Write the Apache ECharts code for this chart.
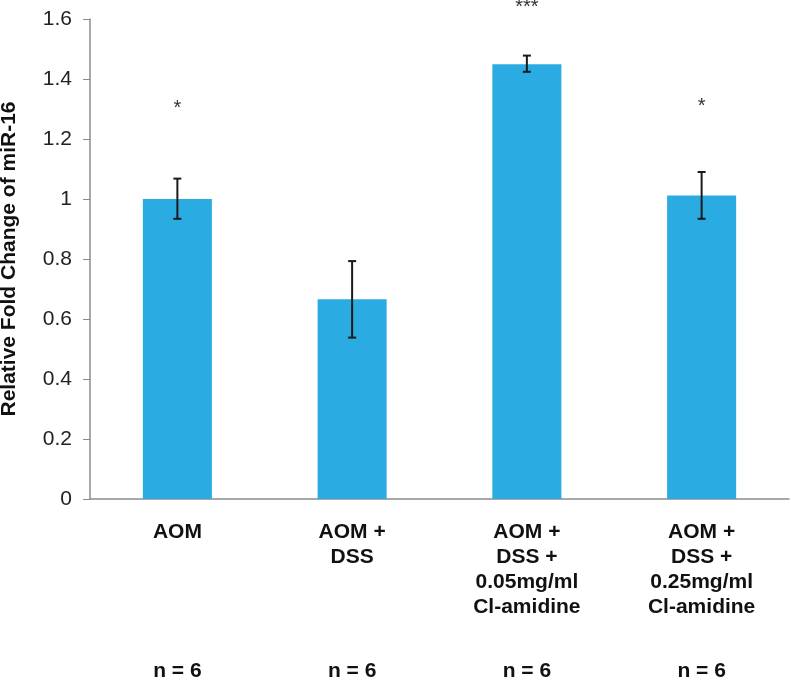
<!DOCTYPE html>
<html>
<head>
<meta charset="utf-8">
<script src="https://cdn.jsdelivr.net/npm/echarts@6/dist/echarts.min.js"></script>
<style>
  html, body { margin: 0; padding: 0; background: #fff; }
  #chartsbox { width: 791px; height: 685px; }
</style>
</head>
<body>
<div id="chartsbox"></div>
<script type="text/javascript">
    // categories and values
    var aCategories = ['AOM', 'AOM +\nDSS', 'AOM +\nDSS +\n0.05mg/ml\nCl-amidine', 'AOM +\nDSS +\n0.25mg/ml\nCl-amidine'];
    var aNLabels = ['n = 6', 'n = 6', 'n = 6', 'n = 6'];
    var aFoldChange = [1.0, 0.666, 1.449, 1.012];
    var aErrLow = [0.934, 0.538, 1.424, 0.934];
    var aErrHigh = [1.068, 0.793, 1.478, 1.09];
    var aStars = ['*', '', '***', '*'];
    var aStarY = [1.303, 0, 1.637, 1.308];

    var axisColor = '#8c8c8c';
    var fontFam = '"Liberation Sans", Arial, sans-serif';

    var errData = [];
    for (var i = 0; i < aCategories.length; i++) {
        errData.push([i, aErrLow[i], aErrHigh[i]]);
    }
    var starData = [];
    for (var j = 0; j < aCategories.length; j++) {
        if (aStars[j]) { starData.push([j, aStarY[j], aStars[j]]); }
    }

    var myChart = echarts.init(document.getElementById('chartsbox'));
    var option = {
        animation: false,
        grid: { left: 90, right: 2, top: 19, bottom: 186, outerBoundsMode: 'none' },
        xAxis: [
            {
                type: 'category',
                data: aCategories,
                axisLine: { lineStyle: { color: axisColor, width: 1.5 } },
                axisTick: { length: 6, lineStyle: { color: axisColor } },
                axisLabel: {
                    margin: 21,
                    interval: 0,
                    color: '#111',
                    fontFamily: fontFam,
                    fontWeight: 'bold',
                    fontSize: 21,
                    lineHeight: 25
                }
            },
            {
                type: 'category',
                position: 'bottom',
                offset: 155,
                data: aNLabels,
                axisLine: { show: false },
                axisTick: { show: false },
                axisLabel: {
                    margin: 7,
                    interval: 0,
                    color: '#111',
                    fontFamily: fontFam,
                    fontWeight: 'bold',
                    fontSize: 21
                }
            }
        ],
        yAxis: {
            type: 'value',
            min: 0,
            max: 1.6,
            interval: 0.2,
            name: 'Relative Fold Change of miR-16',
            nameLocation: 'middle',
            nameGap: 70,
            nameTextStyle: {
                color: '#111',
                fontFamily: fontFam,
                fontWeight: 'bold',
                fontSize: 21
            },
            axisLine: { show: true, lineStyle: { color: axisColor, width: 1.5 } },
            axisTick: { show: true, length: 7, lineStyle: { color: axisColor } },
            splitLine: { show: false },
            axisLabel: {
                margin: 18,
                color: '#222',
                fontFamily: fontFam,
                fontSize: 21
            }
        },
        series: [
            {
                name: 'fold',
                type: 'bar',
                xAxisIndex: 0,
                barWidth: '39.5%',
                itemStyle: { color: '#2aabe2' },
                data: aFoldChange
            },
            {
                name: 'err',
                type: 'custom',
                xAxisIndex: 0,
                z: 10,
                data: errData,
                renderItem: function (params, api) {
                    var x = api.value(0);
                    var lo = api.coord([x, api.value(1)]);
                    var hi = api.coord([x, api.value(2)]);
                    var w = 4;
                    var st = { stroke: '#1a1a1a', lineWidth: 2 };
                    return {
                        type: 'group',
                        children: [
                            { type: 'line', shape: { x1: hi[0], y1: hi[1], x2: lo[0], y2: lo[1] }, style: st },
                            { type: 'line', shape: { x1: hi[0] - w, y1: hi[1], x2: hi[0] + w, y2: hi[1] }, style: st },
                            { type: 'line', shape: { x1: lo[0] - w, y1: lo[1], x2: lo[0] + w, y2: lo[1] }, style: st }
                        ]
                    };
                }
            },
            {
                name: 'stars',
                type: 'custom',
                xAxisIndex: 0,
                clip: false,
                data: starData,
                renderItem: function (params, api) {
                    var p = api.coord([api.value(0), api.value(1)]);
                    return {
                        type: 'text',
                        x: p[0],
                        y: p[1],
                        style: {
                            text: starData[params.dataIndex][2],
                            fill: '#333',
                            font: '20px ' + fontFam,
                            align: 'center',
                            verticalAlign: 'middle'
                        }
                    };
                }
            }
        ]
    };
    myChart.setOption(option);
</script>
</body>
</html>
